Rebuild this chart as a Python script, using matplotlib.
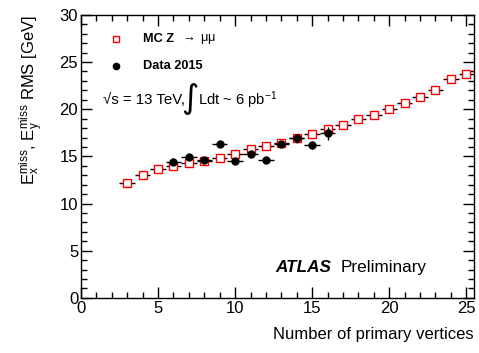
import matplotlib
matplotlib.use("Agg")
import matplotlib.pyplot as plt
from matplotlib.ticker import MultipleLocator

plt.rcParams['font.family'] = ['Liberation Sans', 'DejaVu Sans']
plt.rcParams['mathtext.fontset'] = 'custom'
plt.rcParams['mathtext.rm'] = 'Liberation Sans'
plt.rcParams['mathtext.it'] = 'Liberation Sans:italic'
plt.rcParams['mathtext.bf'] = 'Liberation Sans:bold'

# MC Z -> mumu
mc_x = [3, 4, 5, 6, 7, 8, 9, 10, 11, 12, 13, 14, 15, 16, 17, 18, 19, 20, 21, 22, 23, 24, 25]
mc_y = [12.16, 13.0, 13.65, 13.97, 14.28, 14.5, 14.88, 15.3, 15.8, 16.07, 16.4, 17.0, 17.4,
        17.9, 18.3, 19.0, 19.35, 20.0, 20.65, 21.3, 22.05, 23.2, 23.75]
mc_yerr = [0.05, 0.05, 0.05, 0.05, 0.05, 0.05, 0.05, 0.05, 0.05, 0.05, 0.05, 0.08, 0.08,
           0.1, 0.1, 0.1, 0.1, 0.12, 0.12, 0.15, 0.15, 0.2, 0.4]

# Data 2015
data_x = [6, 7, 8, 9, 10, 11, 12, 13, 14, 15, 16]
data_y = [14.45, 14.9, 14.6, 16.3, 14.5, 15.22, 14.6, 16.3, 16.9, 16.2, 17.45]
data_yerr = [0.35, 0.3, 0.2, 0.3, 0.2, 0.3, 0.2, 0.3, 0.45, 0.4, 0.7]

fig = plt.figure(figsize=(4.79, 3.53), dpi=100)
ax = fig.add_axes([0.169, 0.156, 0.8206, 0.8019])

ax.errorbar(mc_x, mc_y, xerr=0.5, yerr=mc_yerr, fmt='none', ecolor='black', elinewidth=1.0, zorder=2)
ax.plot(mc_x, mc_y, 's', markersize=6, markerfacecolor='white', markeredgecolor='red',
        markeredgewidth=1.0, linestyle='none', zorder=4)
ax.errorbar(data_x, data_y, xerr=0.5, yerr=data_yerr, fmt='o', color='black', markersize=5,
            elinewidth=1.0, zorder=5)

ax.set_xlim(0, 25.5)
ax.set_ylim(0, 30)
ax.xaxis.set_major_locator(MultipleLocator(5))
ax.xaxis.set_minor_locator(MultipleLocator(1))
ax.yaxis.set_major_locator(MultipleLocator(5))
ax.yaxis.set_minor_locator(MultipleLocator(1))
ax.tick_params(which='both', direction='in', top=True, right=True, labelsize=12, width=1.0)
ax.tick_params(which='major', length=8)
ax.tick_params(which='minor', length=4)
ax.tick_params(axis='x', pad=2)
ax.tick_params(axis='y', pad=2)
for s in ax.spines.values():
    s.set_linewidth(1.0)

ax.set_xlabel('Number of primary vertices', fontsize=12, loc='right', labelpad=8)
ax.set_ylabel(r'$\mathrm{E}_{\mathrm{x}}^{\mathrm{miss}}$, $\mathrm{E}_{\mathrm{y}}^{\mathrm{miss}}$ RMS [GeV]',
              fontsize=12, loc='top', labelpad=10)

# Legend
ax.plot([2.29], [27.43], 's', markersize=5, markerfacecolor='white', markeredgecolor='red',
        markeredgewidth=1.0)
ax.text(4.0, 27.43, 'MC Z', fontsize=9.2, fontweight='bold', va='center')
ax.text(6.45, 27.43, r'$\rightarrow$ \u03bc\u03bc'.replace('\\u03bc', '\u03bc'), fontsize=9.2, va='center')
ax.plot([2.29], [24.53], 'o', markersize=4.5, color='black')
ax.text(4.0, 24.53, 'Data 2015', fontsize=9.2, fontweight='bold', va='center')
ax.text(1.4, 21.0, '\u221as = 13 TeV,', fontsize=10.8, va='center')
ax.text(7.6, 21.15, '\u222b', fontsize=24, va='center', ha='right', fontfamily='DejaVu Sans')
ax.text(7.62, 21.0, r'Ldt ~ 6 pb$^{\mathrm{-1}}$', fontsize=10.6, va='center')

ax.text(12.6, 3.18, 'ATLAS', fontsize=12.3, fontweight='bold', fontstyle='italic', va='center')
ax.text(16.84, 3.18, 'Preliminary', fontsize=12.3, va='center')

fig.savefig('out.png', dpi=100)
